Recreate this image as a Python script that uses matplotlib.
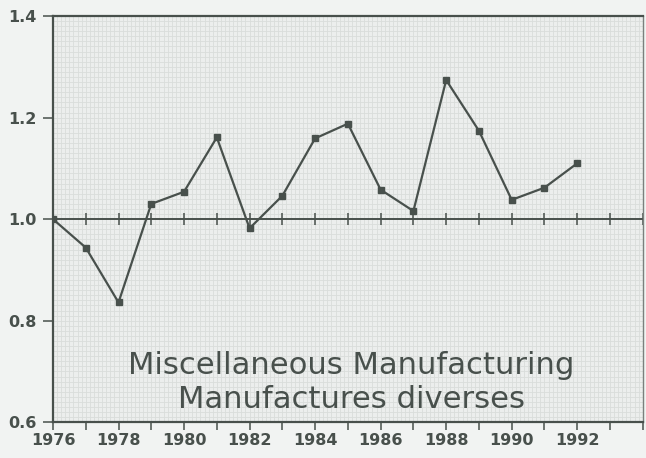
import matplotlib
matplotlib.use("Agg")
import matplotlib.pyplot as plt
import numpy as np
from matplotlib.ticker import MultipleLocator, FormatStrFormatter

years = [1976, 1977, 1978, 1979, 1980, 1981, 1982, 1983, 1984,
         1985, 1986, 1987, 1988, 1989, 1990, 1991, 1992]
values = [1.000, 0.944, 0.836, 1.030, 1.054, 1.161, 0.982, 1.046, 1.159,
          1.188, 1.058, 1.016, 1.274, 1.174, 1.038, 1.062, 1.110]
title_lines = ["Miscellaneous Manufacturing", "Manufactures diverses"]
y_ticks = [0.6, 0.8, 1.0, 1.2, 1.4]

ink = "#48504c"
bg = "#f1f3f2"

fig = plt.figure(figsize=(6.46, 4.58), dpi=100, facecolor=bg)
ax = fig.add_axes([0.082, 0.078, 0.913, 0.887])
ax.set_facecolor("#eceeed")
ax.set_xlim(1976, 1994)
ax.set_ylim(0.6, 1.4)

# fine graph-paper texture
ax.xaxis.set_minor_locator(MultipleLocator(0.125))
ax.yaxis.set_minor_locator(MultipleLocator(0.01))
ax.grid(which="minor", color="#d9dddb", linewidth=0.6)
ax.grid(which="major", color="#d9dddb", linewidth=0.6)
ax.tick_params(which="minor", length=0)
ax.set_axisbelow(True)

# reference line at 1.0 with year ticks crossing it
ax.axhline(1.0, color=ink, linewidth=1.4, zorder=2)
ax.scatter(np.arange(1976, 1995), np.ones(19), marker="|", s=80,
           color=ink, linewidths=1.1, zorder=2)

ax.plot(years, values, color=ink, linewidth=1.6, marker="s",
        markersize=3.8, markerfacecolor=ink, markeredgecolor=ink, zorder=3)

ax.set_xticks(np.arange(1976, 1995))
ax.set_xticklabels([str(y) if (y % 2 == 0 and y <= 1992) else "" for y in range(1976, 1995)])
ax.set_yticks(y_ticks)
ax.yaxis.set_major_formatter(FormatStrFormatter("%.1f"))
ax.tick_params(axis="x", which="major", direction="out", length=6,
               width=1.1, color=ink, labelcolor=ink, labelsize=11.5, pad=1.5)
ax.tick_params(axis="y", which="major", direction="out", length=7.5,
               width=1.1, color=ink, labelcolor=ink, labelsize=11.5, pad=4)
for lab in ax.get_xticklabels() + ax.get_yticklabels():
    lab.set_fontfamily("DejaVu Sans")
    lab.set_fontweight("bold")

for side in ["left", "bottom", "top"]:
    ax.spines[side].set_color(ink)
    ax.spines[side].set_linewidth(1.6)
ax.spines["right"].set_color("#7a807d")
ax.spines["right"].set_linewidth(1.0)

t1 = ax.text(1985.1, 0.711, title_lines[0], ha="center", va="center",
             fontsize=20, color=ink, family="DejaVu Sans")
t2 = ax.text(1985.1, 0.644, title_lines[1], ha="center", va="center",
             fontsize=20, color=ink, family="DejaVu Sans")

# fit the first title line to the reference width (~447 px)
fig.canvas.draw()
w = t1.get_window_extent().width
fs = 20 * 447.0 / w
t1.set_fontsize(fs)
t2.set_fontsize(fs)

fig.savefig("out.png", dpi=100, facecolor=bg)
